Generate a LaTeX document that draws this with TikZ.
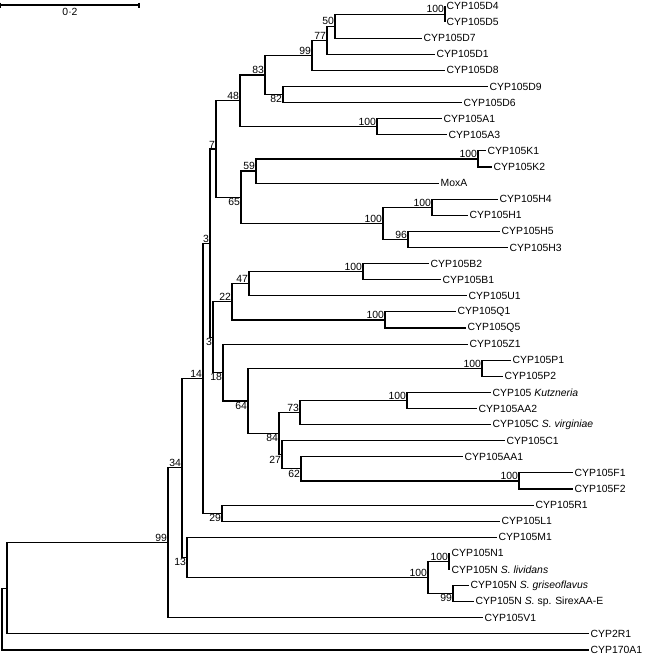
\documentclass[tikz,border=0pt]{standalone}
\usepackage{fontspec}
\setmainfont{Liberation Sans}
\usepackage{tikz}
\usetikzlibrary{positioning}

\begin{document}
\begin{tikzpicture}[x=1pt, y=-1pt,
      br/.style={line width=1.1pt},
      tx/.style={font=\fontsize{10.4}{12}\selectfont},
      leaf/.style={tx, anchor=west, inner sep=1.5pt},
      bs/.style={tx, inner sep=0.8pt}]
    \useasboundingbox (0,0) rectangle (646,656);
    % scale bar
    \coordinate (sb0) at (0.6,5);
    \coordinate (sb1) at (139,5);
    \draw[br] (sb0) -- (sb1);
    \draw[br] ([yshift=2.5pt]sb0) -- ([yshift=-2.5pt]sb0);
    \draw[br] ([yshift=2.5pt]sb1) -- ([yshift=-2.5pt]sb1);
    \node[bs, below=2pt] (sbl) at (70,5) {0·2};
    % leaves
    \node[leaf] (d4) at (445,6.0) {CYP105D4};
    \node[leaf] (d5) at (445,22.1) {CYP105D5};
    \node[leaf] (d7) at (422,38.2) {CYP105D7};
    \node[leaf] (d1) at (435,54.3) {CYP105D1};
    \node[leaf] (d8) at (445,70.4) {CYP105D8};
    \node[leaf] (d9) at (488,86.5) {CYP105D9};
    \node[leaf] (d6) at (462,102.6) {CYP105D6};
    \node[leaf] (a1) at (442,118.7) {CYP105A1};
    \node[leaf] (a3) at (447,134.8) {CYP105A3};
    \node[leaf] (k1) at (486,150.9) {CYP105K1};
    \node[leaf] (k2) at (492,167.0) {CYP105K2};
    \node[leaf] (moxa) at (439,183.1) {MoxA};
    \node[leaf] (h4) at (498,199.2) {CYP105H4};
    \node[leaf] (h1) at (468,215.3) {CYP105H1};
    \node[leaf] (h5) at (500,231.4) {CYP105H5};
    \node[leaf] (h3) at (508,247.5) {CYP105H3};
    \node[leaf] (b2) at (429,263.6) {CYP105B2};
    \node[leaf] (b1) at (441,279.7) {CYP105B1};
    \node[leaf] (u1) at (467,295.8) {CYP105U1};
    \node[leaf] (q1) at (456,311.9) {CYP105Q1};
    \node[leaf] (q5) at (466,328.0) {CYP105Q5};
    \node[leaf] (z1) at (468,344.1) {CYP105Z1};
    \node[leaf] (p1) at (511,360.2) {CYP105P1};
    \node[leaf] (p2) at (503,376.3) {CYP105P2};
    \node[leaf] (kutz) at (491,392.4) {CYP105 \textit{Kutzneria}};
    \node[leaf] (aa2) at (477,408.5) {CYP105AA2};
    \node[leaf] (cvir) at (491,424.6) {CYP105C \textit{S. virginiae}};
    \node[leaf] (c1) at (505,440.7) {CYP105C1};
    \node[leaf] (aa1) at (463,456.8) {CYP105AA1};
    \node[leaf] (f1) at (573,472.9) {CYP105F1};
    \node[leaf] (f2) at (573,489.0) {CYP105F2};
    \node[leaf] (r1) at (534,505.1) {CYP105R1};
    \node[leaf] (l1) at (500,521.2) {CYP105L1};
    \node[leaf] (m1) at (497,537.3) {CYP105M1};
    \node[leaf] (n1) at (450,553.4) {CYP105N1};
    \node[leaf] (nliv) at (450,569.5) {CYP105N \textit{S. lividans}};
    \node[leaf] (ngri) at (469,585.6) {CYP105N \textit{S. griseoflavus}};
    \node[leaf] (nsir) at (474,601.7) {CYP105N \textit{S.} sp. SirexAA-E};
    \node[leaf] (v1) at (483,617.8) {CYP105V1};
    \node[leaf] (r2) at (589,633.9) {CYP2R1};
    \node[leaf] (a170) at (589,650.0) {CYP170A1};
    % internal nodes
    \coordinate (n100d) at (445,14.05);
    \coordinate (n50) at (335,26.1);
    \coordinate (n77) at (327,40.2);
    \coordinate (n99d) at (312,55.35);
    \coordinate (n82) at (283,94.55);
    \coordinate (n83) at (265,74.95);
    \coordinate (n100a) at (377,126.75);
    \coordinate (n48) at (240,100.85);
    \coordinate (n100k) at (478,158.95);
    \coordinate (n59) at (256,171.0);
    \coordinate (n100hh) at (432,207.25);
    \coordinate (n96) at (408,239.45);
    \coordinate (n100h) at (383,223.35);
    \coordinate (n65) at (241,197.2);
    \coordinate (n7) at (216,149.0);
    \coordinate (n100b) at (363,271.65);
    \coordinate (n47) at (249,283.7);
    \coordinate (n100q) at (385,319.95);
    \coordinate (n22) at (232,301.8);
    \coordinate (n100p) at (482,368.25);
    \coordinate (n100ku) at (407,400.45);
    \coordinate (n73) at (300,412.5);
    \coordinate (n100f) at (519,480.95);
    \coordinate (n62) at (301,468.9);
    \coordinate (n27) at (282,454.8);
    \coordinate (n84) at (279,433.65);
    \coordinate (n64) at (248,400.95);
    \coordinate (n18) at (223,372.5);
    \coordinate (n3b) at (213,337.15);
    \coordinate (n3a) at (210,243.1);
    \coordinate (n29) at (222,513.15);
    \coordinate (n14) at (203,378.1);
    \coordinate (n100nn) at (449,561.45);
    \coordinate (n99g) at (453,593.65);
    \coordinate (n100n) at (428,577.55);
    \coordinate (n13) at (187,557.4);
    \coordinate (n34) at (182,467.75);
    \coordinate (n99) at (168,542.8);
    \coordinate (nA) at (7,588.35);
    \coordinate (nR) at (2,619.2);
    % branches
    \foreach \p/\c in {n100d/d4.west, n100d/d5.west, n50/n100d, n50/d7.west,
        n77/n50, n77/d1.west, n99d/n77, n99d/d8.west, n82/d9.west, n82/d6.west,
        n83/n99d, n83/n82, n100a/a1.west, n100a/a3.west, n48/n83, n48/n100a,
        n100k/k1.west, n100k/k2.west, n59/n100k, n59/moxa.west,
        n100hh/h4.west, n100hh/h1.west, n96/h5.west, n96/h3.west,
        n100h/n100hh, n100h/n96, n65/n59, n65/n100h, n7/n48, n7/n65,
        n100b/b2.west, n100b/b1.west, n47/n100b, n47/u1.west,
        n100q/q1.west, n100q/q5.west, n22/n47, n22/n100q,
        n100p/p1.west, n100p/p2.west, n100ku/kutz.west, n100ku/aa2.west,
        n73/n100ku, n73/cvir.west, n100f/f1.west, n100f/f2.west,
        n62/aa1.west, n62/n100f, n27/c1.west, n27/n62, n84/n73, n84/n27,
        n64/n100p, n64/n84, n18/z1.west, n18/n64, n3b/n22, n3b/n18,
        n3a/n7, n3a/n3b, n29/r1.west, n29/l1.west, n14/n3a, n14/n29,
        n100nn/n1.west, n100nn/nliv.west, n99g/ngri.west, n99g/nsir.west,
        n100n/n100nn, n100n/n99g, n13/m1.west, n13/n100n,
        n34/n14, n34/n13, n99/n34, n99/v1.west, nA/n99, nA/r2.west,
        nR/nA, nR/a170.west}
      \draw[br] (\p) |- (\c);
    % bootstrap values
    \foreach \n/\t in {n100d/100, n50/50, n77/77, n99d/99, n83/83, n48/48,
        n100a/100, n7/7, n59/59, n100k/100, n100h/100, n100hh/100, n96/96,
        n3a/3, n100b/100, n47/47, n22/22, n100q/100, n14/14, n100p/100,
        n73/73, n100ku/100, n100f/100, n34/34, n99/99, n100nn/100, n100n/100}
      \node[bs, above left] (l\n) at (\n) {\t};
    \foreach \n/\t in {n82/82, n65/65, n3b/3, n18/18, n64/64, n84/84,
        n27/27, n62/62, n29/29, n13/13, n99g/99}
      \node[bs, below left] (l\n) at (\n) {\t};
  \end{tikzpicture}
\end{document}
